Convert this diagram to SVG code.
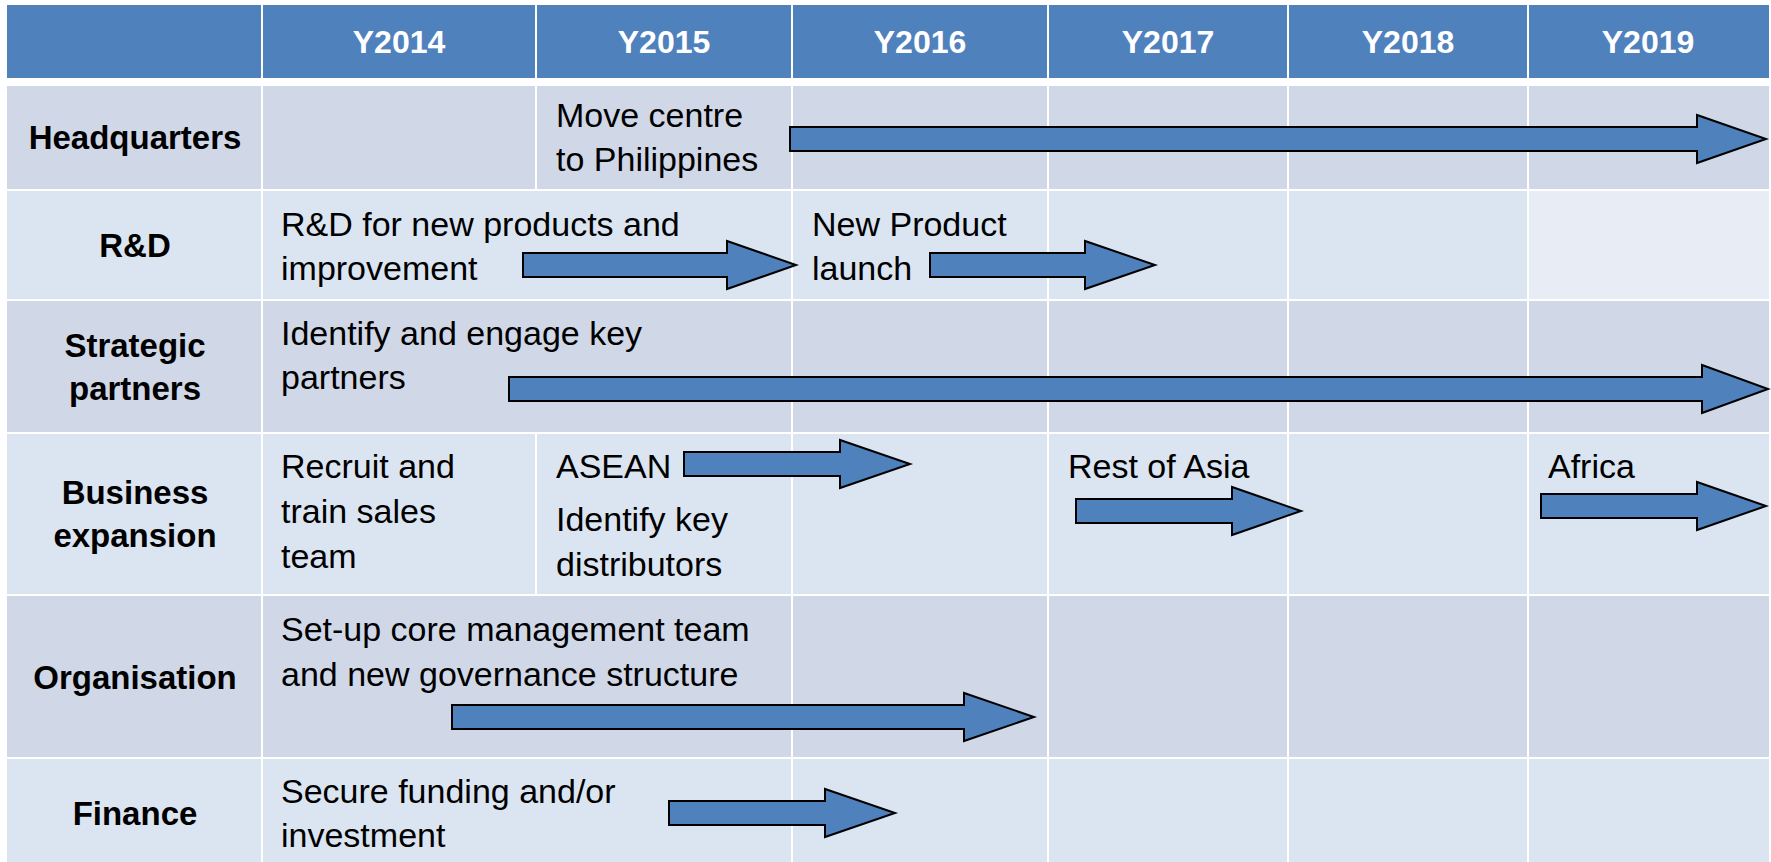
<svg xmlns="http://www.w3.org/2000/svg" width="1771" height="862" viewBox="0 0 1771 862">
<style>
.hd{fill:#4F81BD}
.dk{fill:#D0D8E8}
.lt{fill:#DBE5F1}
.lt2{fill:#E8EDF5}
.yr{font-family:"Liberation Sans",Arial,sans-serif;font-weight:bold;font-size:32px;fill:#FFFFFF;text-anchor:middle}
.lb{font-family:"Liberation Sans",Arial,sans-serif;font-weight:bold;font-size:33px;fill:#000;text-anchor:middle}
.tx{font-family:"Liberation Sans",Arial,sans-serif;font-size:34px;fill:#000}
.ar{fill:#4F81BD;stroke:#000;stroke-width:2;stroke-linejoin:miter}
</style>
<rect x="0" y="0" width="1771" height="862" fill="#FFFFFF"/>
<g id="header">
<rect class="hd" x="7" y="5" width="254" height="73"/>
<rect class="hd" x="263" y="5" width="272" height="73"/>
<rect class="hd" x="537" y="5" width="254" height="73"/>
<rect class="hd" x="793" y="5" width="254" height="73"/>
<rect class="hd" x="1049" y="5" width="238" height="73"/>
<rect class="hd" x="1289" y="5" width="238" height="73"/>
<rect class="hd" x="1529" y="5" width="240" height="73"/>
<text class="yr" x="399" y="53">Y2014</text>
<text class="yr" x="664" y="53">Y2015</text>
<text class="yr" x="920" y="53">Y2016</text>
<text class="yr" x="1168" y="53">Y2017</text>
<text class="yr" x="1408" y="53">Y2018</text>
<text class="yr" x="1648" y="53">Y2019</text>
</g>
<g id="row-headquarters">
<rect class="dk" x="7" y="86" width="254" height="103"/>
<rect class="dk" x="263" y="86" width="272" height="103"/>
<rect class="dk" x="537" y="86" width="254" height="103"/>
<rect class="dk" x="793" y="86" width="254" height="103"/>
<rect class="dk" x="1049" y="86" width="238" height="103"/>
<rect class="dk" x="1289" y="86" width="238" height="103"/>
<rect class="dk" x="1529" y="86" width="240" height="103"/>
<text class="lb" x="135" y="149">Headquarters</text>
<text class="tx" x="556" y="127">Move centre</text>
<text class="tx" x="556" y="171">to Philippines</text>
</g>
<g id="row-rd">
<rect class="lt" x="7" y="191" width="254" height="108"/>
<rect class="lt" x="263" y="191" width="528" height="108"/>
<rect class="lt" x="793" y="191" width="254" height="108"/>
<rect class="lt" x="1049" y="191" width="238" height="108"/>
<rect class="lt" x="1289" y="191" width="238" height="108"/>
<rect class="lt2" x="1529" y="191" width="240" height="108"/>
<text class="lb" x="135" y="257">R&amp;D</text>
<text class="tx" x="281" y="236">R&amp;D for new products and</text>
<text class="tx" x="281" y="280">improvement</text>
<text class="tx" x="812" y="236">New Product</text>
<text class="tx" x="812" y="280">launch</text>
</g>
<g id="row-strategic">
<rect class="dk" x="7" y="301" width="254" height="131"/>
<rect class="dk" x="263" y="301" width="528" height="131"/>
<rect class="dk" x="793" y="301" width="254" height="131"/>
<rect class="dk" x="1049" y="301" width="238" height="131"/>
<rect class="dk" x="1289" y="301" width="238" height="131"/>
<rect class="dk" x="1529" y="301" width="240" height="131"/>
<text class="lb" x="135" y="357">Strategic</text>
<text class="lb" x="135" y="400">partners</text>
<text class="tx" x="281" y="345">Identify and engage key</text>
<text class="tx" x="281" y="389">partners</text>
</g>
<g id="row-business">
<rect class="lt" x="7" y="434" width="254" height="160"/>
<rect class="lt" x="263" y="434" width="272" height="160"/>
<rect class="lt" x="537" y="434" width="254" height="160"/>
<rect class="lt" x="793" y="434" width="254" height="160"/>
<rect class="lt" x="1049" y="434" width="238" height="160"/>
<rect class="lt" x="1289" y="434" width="238" height="160"/>
<rect class="lt" x="1529" y="434" width="240" height="160"/>
<text class="lb" x="135" y="504">Business</text>
<text class="lb" x="135" y="547">expansion</text>
<text class="tx" x="281" y="478">Recruit and</text>
<text class="tx" x="281" y="523">train sales</text>
<text class="tx" x="281" y="568">team</text>
<text class="tx" x="556" y="478">ASEAN</text>
<text class="tx" x="556" y="531">Identify key</text>
<text class="tx" x="556" y="576">distributors</text>
<text class="tx" x="1068" y="478">Rest of Asia</text>
<text class="tx" x="1548" y="478">Africa</text>
</g>
<g id="row-organisation">
<rect class="dk" x="7" y="596" width="254" height="161"/>
<rect class="dk" x="263" y="596" width="528" height="161"/>
<rect class="dk" x="793" y="596" width="254" height="161"/>
<rect class="dk" x="1049" y="596" width="238" height="161"/>
<rect class="dk" x="1289" y="596" width="238" height="161"/>
<rect class="dk" x="1529" y="596" width="240" height="161"/>
<text class="lb" x="135" y="689">Organisation</text>
<text class="tx" x="281" y="641">Set-up core management team</text>
<text class="tx" x="281" y="686">and new governance structure</text>
</g>
<g id="row-finance">
<rect class="lt" x="7" y="759" width="254" height="103"/>
<rect class="lt" x="263" y="759" width="528" height="103"/>
<rect class="lt" x="793" y="759" width="254" height="103"/>
<rect class="lt" x="1049" y="759" width="238" height="103"/>
<rect class="lt" x="1289" y="759" width="238" height="103"/>
<rect class="lt" x="1529" y="759" width="240" height="103"/>
<text class="lb" x="135" y="825">Finance</text>
<text class="tx" x="281" y="803">Secure funding and/or</text>
<text class="tx" x="281" y="847">investment</text>
</g>
<g id="connectors">
<polygon class="ar" points="790,127 1697,127 1697,115 1766,139 1697,163 1697,151 790,151"/>
<polygon class="ar" points="523,253 727,253 727,241 796,265 727,289 727,277 523,277"/>
<polygon class="ar" points="930,253 1085,253 1085,241 1155,265 1085,289 1085,277 930,277"/>
<polygon class="ar" points="509,377 1702,377 1702,365 1768,389 1702,413 1702,401 509,401"/>
<polygon class="ar" points="684,452 840,452 840,440 910,464 840,488 840,476 684,476"/>
<polygon class="ar" points="1076,499 1232,499 1232,487 1301,511 1232,535 1232,523 1076,523"/>
<polygon class="ar" points="1541,494 1697,494 1697,482 1766,506 1697,530 1697,518 1541,518"/>
<polygon class="ar" points="452,705 964,705 964,693 1034,717 964,741 964,729 452,729"/>
<polygon class="ar" points="669,801 825,801 825,789 895,813 825,837 825,825 669,825"/>
</g>
</svg>
